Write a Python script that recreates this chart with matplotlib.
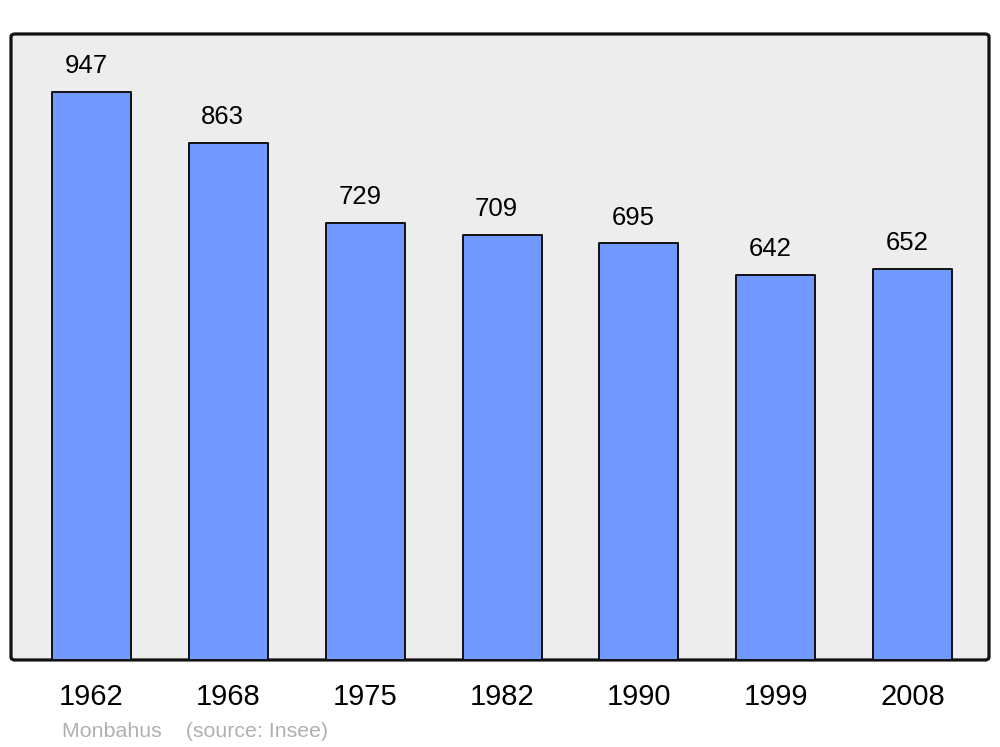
import matplotlib.pyplot as plt
from matplotlib.patches import FancyBboxPatch

plt.rcParams["font.family"] = ["Liberation Sans", "DejaVu Sans"]

years = ["1962", "1968", "1975", "1982", "1990", "1999", "2008"]
population = [947, 863, 729, 709, 695, 642, 652]
footer = "Monbahus    (source: Insee)"

fig = plt.figure(figsize=(10, 7.47), dpi=100)
ax = fig.add_axes([0.011, 0.1165, 0.978, 0.838])
ax.set_facecolor("none")

# rounded grey frame behind the bars
frame = FancyBboxPatch((0.011, 0.1165), 0.978, 0.838,
                       boxstyle="round,pad=0,rounding_size=0.004",
                       transform=fig.transFigure, facecolor="#ededed",
                       edgecolor="#111111", linewidth=2.3, zorder=-1)
fig.patches.append(frame)

x = list(range(len(years)))
bars = ax.bar(x, population, width=0.577, color="#7299ff",
              edgecolor="#111111", linewidth=1.4, zorder=2)
for b in bars:
    b.set_joinstyle("round")

for xi, v in zip(x, population):
    ax.annotate(str(v), (xi, v), xytext=(-4, 18.5), textcoords="offset points",
                ha="center", va="center", fontsize=18.5, color="#000000")

ax.set_xlim(-0.588, 6.558)
ax.set_ylim(0, 1044)
ax.set_xticks(x)
ax.set_xticklabels(years, fontsize=21)
ax.tick_params(axis="x", length=0, pad=16.5)
ax.set_yticks([])
for s in ax.spines.values():
    s.set_visible(False)

fig.text(0.062, 0.0135, footer, fontsize=15.4, color="#b0b0b0", ha="left", va="baseline")

fig.savefig("out.png", dpi=100)
